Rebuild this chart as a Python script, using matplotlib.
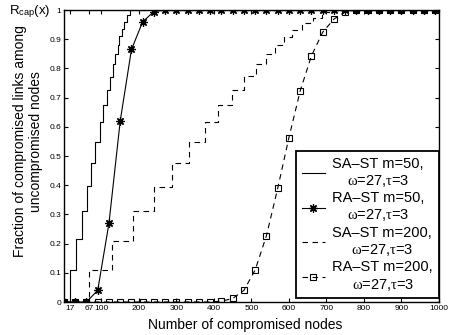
import matplotlib
matplotlib.use('Agg')
from matplotlib import pyplot as plt

plt.rcParams['font.family'] = ['Liberation Sans', 'DejaVu Sans']
plt.rcParams['mathtext.fontset'] = 'custom'
plt.rcParams['mathtext.rm'] = 'Liberation Serif'
plt.rcParams['mathtext.sf'] = 'Liberation Sans'
plt.rcParams['mathtext.it'] = 'Liberation Serif:italic'

# SA-ST m=50 (solid staircase), step edges and levels
sa50_x = [0, 17, 31, 47, 61, 72, 84, 96, 105, 114, 123, 130, 136, 143, 148, 154, 160, 168, 176, 1000]
sa50_y = [0, 0.11, 0.215, 0.31, 0.397, 0.477, 0.549, 0.615, 0.675, 0.726, 0.772, 0.814, 0.85, 0.88,
          0.91, 0.935, 0.96, 0.983, 1.0, 1.0]

# SA-ST m=200 (dashed staircase)
sa200_x = [0, 67, 128, 185, 240, 288, 334, 375, 411, 447, 480, 511, 538, 564, 587, 609, 634, 663,
           689, 716, 1000]
sa200_y = [0, 0.11, 0.21, 0.31, 0.395, 0.477, 0.549, 0.615, 0.675, 0.726, 0.774, 0.814, 0.848,
           0.882, 0.909, 0.932, 0.955, 0.974, 0.992, 1.0, 1.0]

# RA-ST curves, sampled every 30 nodes
ra_x = [0, 30, 60, 90, 120, 150, 180, 210, 240, 270, 300, 330, 360, 390, 420, 450, 480, 510,
        540, 570, 600, 630, 660, 690, 720, 750, 780, 810, 840, 870, 900, 930, 960, 990]
ra50_y = [0, 0, 0, 0.04, 0.27, 0.62, 0.865, 0.96, 0.995, 1, 1, 1, 1, 1, 1, 1, 1, 1,
          1, 1, 1, 1, 1, 1, 1, 1, 1, 1, 1, 1, 1, 1, 1, 1]
ra200_y = [0, 0, 0, 0, 0, 0, 0, 0, 0, 0, 0, 0, 0, 0, 0.003, 0.012, 0.04, 0.11,
           0.227, 0.389, 0.563, 0.723, 0.843, 0.924, 0.969, 0.994, 1, 1, 1, 1, 1, 1, 1, 1]

xticks = [17, 67, 100, 200, 300, 400, 500, 600, 700, 800, 900, 1000]
yticks = [0, 0.1, 0.2, 0.3, 0.4, 0.5, 0.6, 0.7, 0.8, 0.9, 1]
ytick_labels = ['0', '0.1', '0.2', '0.3', '0.4', '0.5', '0.6', '0.7', '0.8', '0.9', '1']

lab2 = '\n$\\mathrm{\\omega}$=27,$\\mathrm{\\tau}$=3'
dash = (0, (5, 4))

fig = plt.figure(figsize=(4.49, 3.35), dpi=100)
ax = fig.add_axes([0.1425, 0.0985, 0.835, 0.8715])

ax.step(sa50_x, sa50_y, where='post', color='k', lw=0.8, label='SA–ST m=50,' + lab2)
ax.plot(ra_x, ra50_y, color='k', lw=0.8, marker=(8, 2, 0), markersize=6, mew=0.9,
        label='RA–ST m=50,' + lab2)
ax.step(sa200_x, sa200_y, where='post', color='k', lw=0.8, linestyle=dash,
        label='SA–ST m=200,' + lab2)
ax.plot(ra_x, ra200_y, color='k', lw=0.8, linestyle=dash, marker='s', markersize=4.5,
        mfc='none', mec='k', mew=0.8, label='RA–ST m=200,' + lab2)

ax.set_xlim(0, 1000)
ax.set_ylim(0, 1)
ax.set_xticks(xticks)
ax.set_xticklabels([str(t) for t in xticks])
ax.set_yticks(yticks)
ax.set_yticklabels(ytick_labels)
ax.tick_params(direction='in', length=3, width=0.8, labelsize=6, top=True, right=True, pad=2)
for s in ax.spines.values():
    s.set_linewidth(1.0)

ax.set_xlabel('Number of compromised nodes', fontsize=10)
ax.xaxis.set_label_coords(0.483, -0.055)
ax.set_ylabel('Fraction of compromised links among\nuncompromised nodes', fontsize=10)
ax.yaxis.set_label_coords(-0.056, 0.55)

fig.text(0.02, 0.99, 'R$_{\\mathsf{cap}}$(x)', fontsize=9.5, va='top', ha='left')

leg = ax.legend(loc='lower right', bbox_to_anchor=(1.0, 0.012), fontsize=10.5, frameon=True,
                fancybox=False, framealpha=1, edgecolor='k', handlelength=1.6,
                handletextpad=0.5, borderpad=0.4, labelspacing=0.15, borderaxespad=0)
leg.get_frame().set_linewidth(1.3)
for t in leg.get_texts():
    t.set_multialignment('center')

fig.savefig('out.png', dpi=100)
